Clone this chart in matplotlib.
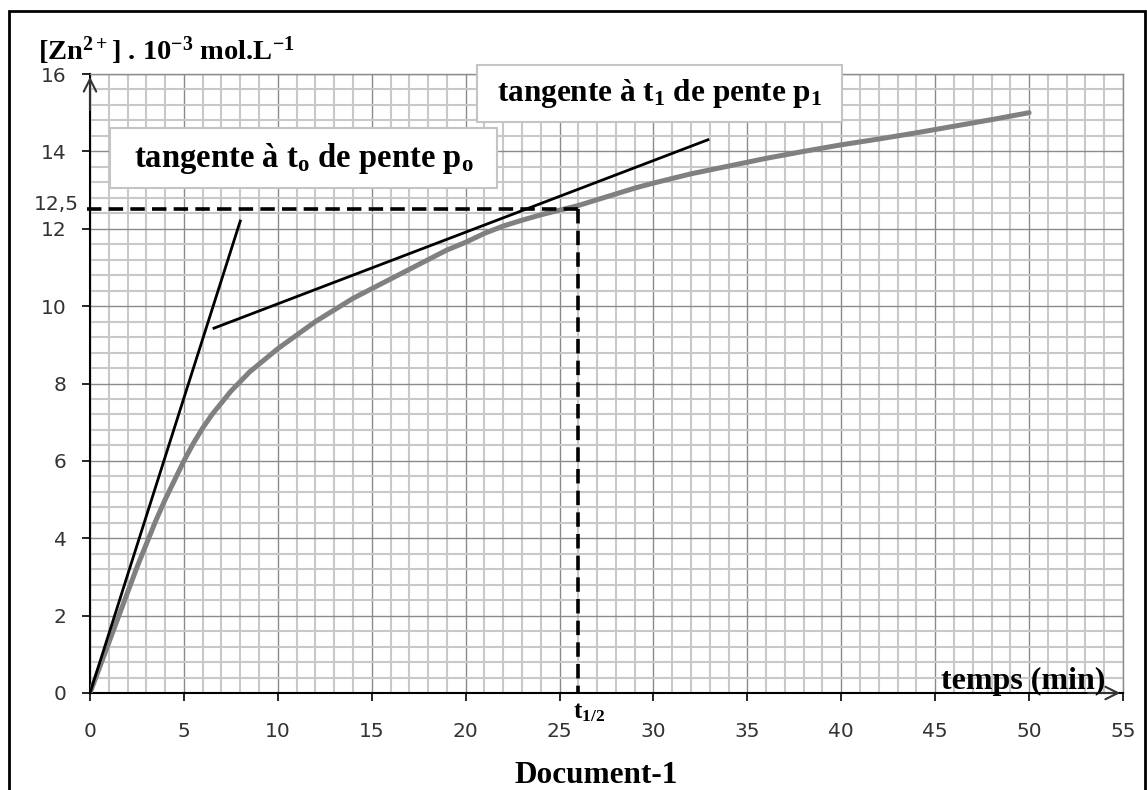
import matplotlib
matplotlib.use("Agg")
import matplotlib.pyplot as plt
from matplotlib.patches import Rectangle
from matplotlib.ticker import MultipleLocator

# Data
temps = [0, 0.5, 1, 1.5, 2, 2.5, 3, 3.5, 4, 4.5, 5, 5.5, 6, 6.5, 7, 7.5, 8,
         8.5, 9, 9.5, 10, 11, 12, 13, 14, 15, 16, 17, 18, 19, 20, 21, 22,
         23, 24, 25, 26, 27, 28, 29, 30, 32, 34, 36, 38, 40, 42, 44, 46,
         48, 50]
zn = [0, 0.65, 1.3, 1.95, 2.6, 3.25, 3.85, 4.45, 5.0, 5.5, 6.0, 6.45, 6.85,
      7.2, 7.5, 7.8, 8.05, 8.3, 8.5, 8.7, 8.9, 9.25, 9.6, 9.9, 10.2, 10.45,
      10.7, 10.95, 11.2, 11.45, 11.65, 11.88, 12.07, 12.22, 12.36, 12.48,
      12.6, 12.75, 12.9, 13.05, 13.18, 13.42, 13.62, 13.82, 14.0, 14.17,
      14.32, 14.48, 14.65, 14.82, 15.0]

tangent0_t = [0, 8.0]
tangent0_c = [0, 12.2]
tangent1_t = [6.6, 32.9]
tangent1_c = [9.43, 14.3]

t_half = 26
c_half = 12.5

xticks = list(range(0, 56, 5))
yticks = list(range(0, 17, 2))

W, H = 1147, 790
plt.rcParams['mathtext.fontset'] = 'custom'
plt.rcParams['mathtext.rm'] = 'Liberation Serif:bold'
plt.rcParams['mathtext.bf'] = 'Liberation Serif:bold'
plt.rcParams['mathtext.it'] = 'Liberation Serif:bold'

fig = plt.figure(figsize=(W / 100, H / 100), dpi=100)
ax = fig.add_axes([90 / W, 1 - 693 / H, (1123 - 90) / W, (693 - 74) / H])

ax.set_xlim(0, 55)
ax.set_ylim(0, 16)
ax.xaxis.set_major_locator(MultipleLocator(5))
ax.yaxis.set_major_locator(MultipleLocator(2))
ax.xaxis.set_minor_locator(MultipleLocator(1))
ax.yaxis.set_minor_locator(MultipleLocator(0.4))
ax.grid(which='minor', color='#c8c8c8', lw=1.5)
ax.grid(which='major', color='#8a8a8a', lw=1.0)
ax.set_axisbelow(True)
ax.tick_params(which='minor', length=0)
ax.tick_params(which='major', direction='out', length=6, width=1.2,
               labelsize=14.5, labelcolor='#333333')
ax.tick_params(axis='x', pad=15)
ax.tick_params(axis='y', pad=11)
ax.set_xticks(xticks)
ax.set_yticks(yticks)
for s in ['top', 'right']:
    ax.spines[s].set_color('#8a8a8a')
    ax.spines[s].set_linewidth(1.0)
for s in ['left', 'bottom']:
    ax.spines[s].set_linewidth(1.5)

# curve and tangents
ax.plot(temps, zn, color='#808080', lw=3.6, solid_capstyle='round',
        solid_joinstyle='round', zorder=3)
ax.plot(tangent0_t, tangent0_c, color='black', lw=2, zorder=4)
ax.plot(tangent1_t, tangent1_c, color='black', lw=2, zorder=4)

# half-time construction
ax.plot([-0.15, t_half], [c_half, c_half], color='black', lw=2.6,
        dashes=(4, 2), clip_on=False, zorder=5)
ax.plot([t_half, t_half], [c_half, 0], color='black', lw=2.6,
        dashes=(4, 2), clip_on=False, zorder=5)
ax.text(-0.6, 12.62, '12,5', ha='right', va='center', fontsize=14.5,
        color='#333333')

# axis arrows
ax.annotate('', xy=(0, 16), xytext=(0, 15), annotation_clip=False,
            arrowprops=dict(arrowstyle='->,head_length=0.9,head_width=0.45',
                            lw=1.5, color='#333333'))
ax.annotate('', xy=(55, 0), xytext=(53, 0), annotation_clip=False,
            arrowprops=dict(arrowstyle='->,head_length=0.9,head_width=0.45',
                            lw=1.5, color='#333333'))

serif = dict(family='Liberation Serif', weight='bold', color='black')

fig.text(38 / W, 1 - 60 / H,
         r'[Zn$^{2+}$] . 10$^{-3}$ mol.L$^{-1}$',
         ha='left', va='baseline', fontsize=20.5, **serif)

# text boxes
boxes = [((110, 128, 497, 188), r'tangente à t$_{o}$ de pente p$_{o}$', 23.5),
         ((477, 65, 842, 122), r'tangente à t$_{1}$ de pente p$_{1}$', 22.5)]
for (x0, y0, x1, y1), label, size in boxes:
    fig.add_artist(Rectangle((x0 / W, 1 - y1 / H), (x1 - x0) / W,
                             (y1 - y0) / H, transform=fig.transFigure,
                             fc='white', ec='#c4c4c4', lw=1.5, zorder=5))
    fig.text((x0 + x1) / 2 / W, 1 - (y0 + y1) / 2 / H, label, ha='center',
             va='center', fontsize=size, zorder=6, **serif)

fig.text(1023 / W, 1 - 689 / H, 'temps (min)', ha='center', va='baseline',
         fontsize=23, **serif)
fig.text(573 / W, 1 - 718 / H, r't$_{1/2}$', ha='left', va='baseline',
         fontsize=18, **serif)
fig.text(596 / W, 1 - 783 / H, 'Document-1', ha='center', va='baseline',
         fontsize=22.5, **serif)

# outer frame
fig.add_artist(Rectangle((9 / W, -0.05), (1145 - 9) / W, 1 - 11 / H + 0.05,
                         transform=fig.transFigure, fill=False, ec='black',
                         lw=2))

fig.savefig('out.png', dpi=100)
